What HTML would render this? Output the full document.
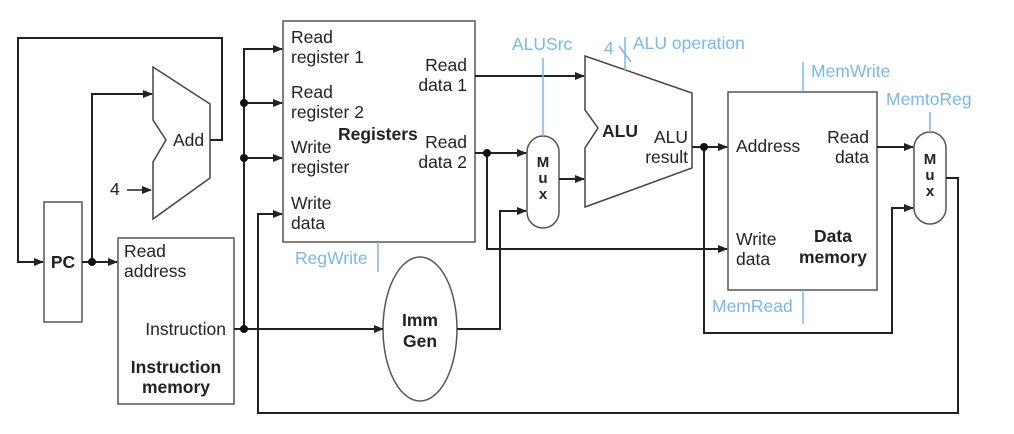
<!DOCTYPE html>
<html><head><style>body{margin:0;background:#fff}svg{display:block}</style></head><body>
<svg width="1014" height="434" viewBox="0 0 1014 434" xmlns="http://www.w3.org/2000/svg" font-family="Liberation Sans, sans-serif" font-size="17.5">
<defs><marker id="a" markerWidth="10" markerHeight="8" refX="9" refY="4" orient="auto" markerUnits="userSpaceOnUse"><path d="M0,0 L10,4 L0,8 z" fill="#222"/></marker></defs>
<g stroke="#222" stroke-width="2" fill="none">
<rect x="44" y="202" width="38" height="120" stroke="#555" stroke-width="1.5"/>
<rect x="118" y="238" width="116" height="166" stroke="#555" stroke-width="1.5"/>
<rect x="283" y="21" width="192" height="221" stroke="#555" stroke-width="1.5"/>
<rect x="728" y="92" width="149" height="198" stroke="#555" stroke-width="1.5"/>
<ellipse cx="420" cy="329" rx="37" ry="72" stroke="#555" stroke-width="1.5"/>
<rect x="527" y="136" width="32" height="92" rx="16" stroke="#555" stroke-width="1.5"/>
<rect x="914" y="132" width="32" height="92" rx="16" stroke="#555" stroke-width="1.5"/>
<polygon points="153,67 210,104 210,178 153,219 153,162 166,140 153,120" stroke="#444" stroke-width="1.5"/>
<polygon points="585,56 692,93 692,168 585,207 585,148 598,128 585,110" stroke="#444" stroke-width="1.5"/>
<polyline points="210,140 222,140 222,38 18,38 18,262 43,262" marker-end="url(#a)"/>
<polyline points="82,262 117,262" marker-end="url(#a)"/>
<polyline points="92,262 92,94 152,94" marker-end="url(#a)"/>
<polyline points="127,190 151,190" stroke-width="1.5" marker-end="url(#a)"/>
<polyline points="234,329 383,329" marker-end="url(#a)"/>
<polyline points="244,329 244,49 282,49" marker-end="url(#a)"/>
<polyline points="244,103 282,103" marker-end="url(#a)"/>
<polyline points="244,158 282,158" marker-end="url(#a)"/>
<polyline points="946,178 958,178 958,413 258,413 258,214 282,214" marker-end="url(#a)"/>
<polyline points="475,76 584,76" marker-end="url(#a)"/>
<polyline points="475,153 526,153" marker-end="url(#a)"/>
<polyline points="487,153 487,249 727,249" marker-end="url(#a)"/>
<polyline points="457,329 500,329 500,211 526,211" marker-end="url(#a)"/>
<polyline points="559,179 584,179" marker-end="url(#a)"/>
<polyline points="692,147 727,147" marker-end="url(#a)"/>
<polyline points="704,147 704,333 892,333 892,208 913,208" marker-end="url(#a)"/>
<polyline points="877,147 913,147" marker-end="url(#a)"/>
</g>
<g fill="#111">
<circle cx="92" cy="262" r="4"/><circle cx="244" cy="329" r="4"/><circle cx="244" cy="103" r="4"/><circle cx="244" cy="158" r="4"/>
<circle cx="487" cy="153" r="4"/><circle cx="704" cy="147" r="4"/>
</g>
<g stroke="#7ab8ea" stroke-width="1.5">
<line x1="378" y1="242" x2="378" y2="272"/><line x1="543" y1="58" x2="543" y2="136"/>
<line x1="625" y1="37" x2="625" y2="71"/><line x1="619" y1="46" x2="631" y2="62"/>
<line x1="803" y1="62" x2="803" y2="92"/><line x1="803" y1="290" x2="803" y2="324"/>
<line x1="930" y1="112" x2="930" y2="132"/>
</g>
<g fill="#7ab8ea">
<text x="295" y="264">RegWrite</text><text x="512" y="50">ALUSrc</text>
<text x="604" y="54">4</text><text x="633" y="49">ALU operation</text>
<text x="811" y="77">MemWrite</text><text x="712" y="312">MemRead</text><text x="886" y="105">MemtoReg</text>
</g>
<g fill="#222">
<text x="63" y="268" text-anchor="middle" font-weight="bold">PC</text>
<text x="173" y="146">Add</text>
<text x="110" y="195">4</text>
<text x="124" y="257">Read</text><text x="124" y="277">address</text>
<text x="226" y="335" text-anchor="end">Instruction</text>
<text x="176" y="373" text-anchor="middle" font-weight="bold">Instruction</text>
<text x="176" y="393" text-anchor="middle" font-weight="bold">memory</text>
<text x="291" y="43">Read</text><text x="291" y="63">register 1</text>
<text x="291" y="98">Read</text><text x="291" y="118">register 2</text>
<text x="291" y="153">Write</text><text x="291" y="173">register</text>
<text x="291" y="209">Write</text><text x="291" y="229">data</text>
<text x="338" y="140" font-weight="bold">Registers</text>
<text x="467" y="71" text-anchor="end">Read</text><text x="467" y="91" text-anchor="end">data 1</text>
<text x="467" y="148" text-anchor="end">Read</text><text x="467" y="168" text-anchor="end">data 2</text>
<text x="420" y="326" text-anchor="middle" font-weight="bold">Imm</text>
<text x="420" y="347" text-anchor="middle" font-weight="bold">Gen</text>
<g font-weight="bold" text-anchor="middle" font-size="15"><text x="543" y="167">M</text><text x="543" y="183">u</text><text x="543" y="199">x</text>
<text x="930" y="164">M</text><text x="930" y="180">u</text><text x="930" y="196">x</text></g>
<text x="602" y="137" font-weight="bold">ALU</text>
<text x="688" y="143" text-anchor="end">ALU</text><text x="688" y="163" text-anchor="end">result</text>
<text x="736" y="152">Address</text>
<text x="869" y="143" text-anchor="end">Read</text><text x="869" y="163" text-anchor="end">data</text>
<text x="736" y="245">Write</text><text x="736" y="265">data</text>
<text x="833" y="242" text-anchor="middle" font-weight="bold">Data</text>
<text x="833" y="263" text-anchor="middle" font-weight="bold">memory</text>
</g>
</svg>
</body></html>
